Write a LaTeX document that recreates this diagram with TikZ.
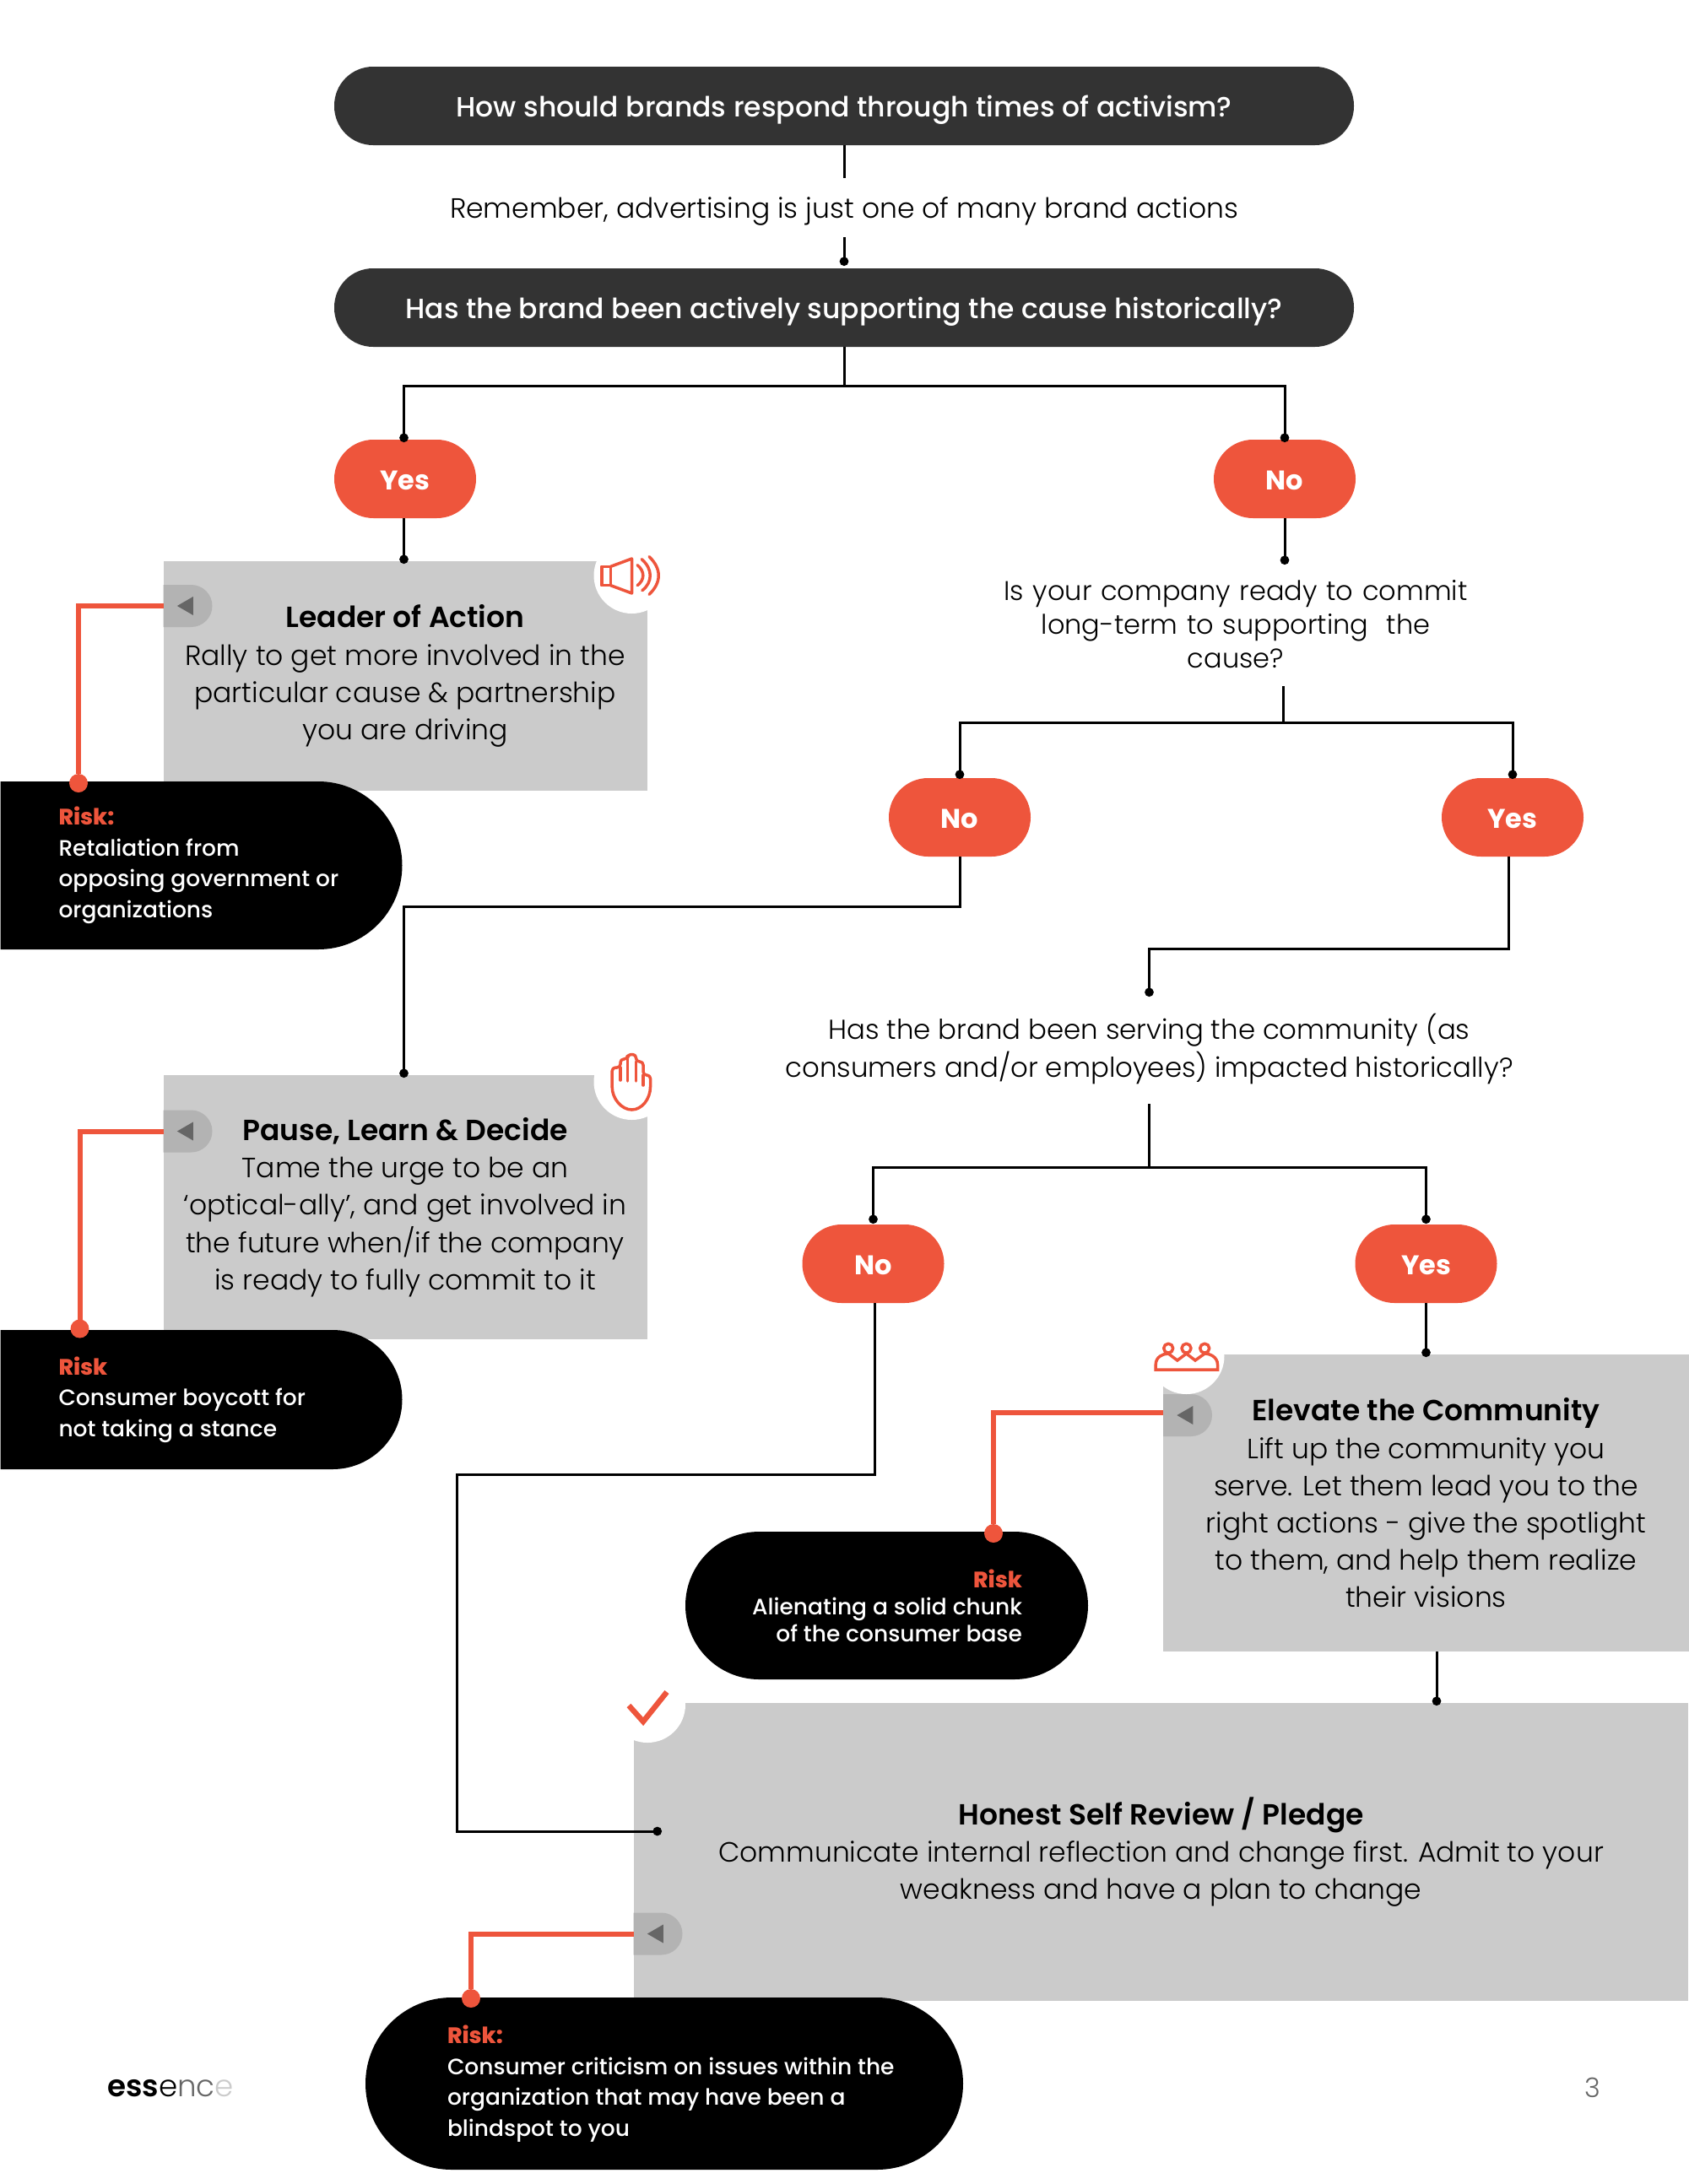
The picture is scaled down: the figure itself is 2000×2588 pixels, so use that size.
\documentclass[tikz,border=0pt]{standalone}
\usepackage{fontspec}
\setmainfont{Poppins Light}[BoldFont={Poppins SemiBold}]
\newfontfamily\pillfont{Poppins Medium}
\newfontfamily\regularfont{Poppins}
\usetikzlibrary{shapes,arrows.meta,positioning,calc}
\definecolor{inkdark}{HTML}{333333}
\definecolor{flame}{HTML}{EE553C}
\definecolor{panel}{HTML}{CBCBCB}
\definecolor{tabgray}{HTML}{B3B3B3}
\definecolor{markgray}{HTML}{666666}
\newcommand{\boxtitle}[1]{{\fontsize{34.5}{44.2}\selectfont\bfseries #1}}
\tikzset{
    every node/.style={inner sep=0pt, outer sep=0pt},
    question/.style={rectangle, rounded corners=46pt, fill=inkdark, text=white, minimum width=1208pt, minimum height=93pt, text height=32pt, text depth=7pt, font=\pillfont\fontsize{33}{40}\selectfont},
    answer/.style={rounded rectangle, fill=flame, text=white, minimum width=168pt, minimum height=93pt, text height=32pt, text depth=6.5pt, font=\regularfont\bfseries\fontsize{32}{40}\selectfont},
    plain/.style={align=center, font=\fontsize{33}{40}\selectfont},
    panelbox/.style={rectangle, fill=panel, align=center, font=\fontsize{33}{44.2}\selectfont},
    riskpill/.style={rounded rectangle, fill=black},
    risktext/.style={text=white, font=\pillfont\fontsize{26.5}{36.5}\selectfont},
    tabbox/.style={rounded rectangle, rounded rectangle west arc=none, fill=tabgray, minimum width=58pt, minimum height=50pt},
    tabmark/.style={isosceles triangle, isosceles triangle stretches, shape border rotate=180, fill=markgray, minimum height=19pt, minimum width=22pt},
    iconspot/.style={circle, fill=white, minimum size=90pt},
    icon/.style={draw=flame, line width=3.5pt, line cap=round, line join=round},
    wire/.style={draw, line width=3pt, -{Circle[length=10.5pt]}, shorten >=-3pt},
    stub/.style={draw, line width=3pt},
    riskline/.style={draw=flame, line width=6pt},
    riskdot/.style={circle, fill=flame, minimum size=22pt}
}
\begin{document}
\begin{tikzpicture}[x=1pt, y=-1pt, on grid]
    \useasboundingbox (0,0) rectangle (2000,2588);

    \node[question] (q1) at (1000,125.5) {How should brands respond through times of activism?};
    \node[plain, minimum height=70pt, text height=31pt, text depth=7pt, below=120.5pt of q1] (remember) {Remember, advertising is just one of many brand actions};
    \node[question, below=118.5pt of remember] (q2) {Has the brand been actively supporting the cause historically?};

    \node[answer, below left=203pt and 520pt of q2] (yes1) {Yes};
    \node[answer, right=1042pt of yes1] (no1) {No};

    \node[panelbox, minimum width=573pt, minimum height=272pt, below=233.5pt of yes1] (leader) {\boxtitle{Leader of Action}\\Rally to get more involved in the\\particular cause \& partnership\\you are driving};
    \node[tabbox, above left=83pt and 257.5pt of leader] (tab1) {};
    \node[tabmark] at (tab1.center) {};
    \node[iconspot, above right=119pt and 268.5pt of leader] (speaker) {};
    \node[riskpill, rounded rectangle west arc=none, minimum width=476pt, minimum height=199pt, below left=224.5pt and 241.5pt of leader] (risk1) {};
    \node[risktext, align=left, anchor=west] (risk1text) at ([xshift=69pt]risk1.west) {\textcolor{flame}{\bfseries Risk:}\\Retaliation from\\opposing government or\\organizations};
    \node[riskdot, above left=97.5pt and 145.5pt of risk1] (dot1) {};

    \node[plain, font=\fontsize{32}{40}\selectfont, text width=600pt, minimum height=147pt, below left=172pt and 58pt of no1] (ready) {Is your company ready to commit\\long-term to supporting\ \ the\\cause?};
    \node[answer, below left=229pt and 327pt of ready] (no2) {No};
    \node[answer, right=655pt of no2] (yes2) {Yes};

    \node[panelbox, minimum width=573pt, minimum height=313pt, below=629.5pt of leader] (pause) {\boxtitle{Pause, Learn \& Decide}\\Tame the urge to be an\\‘optical-ally’, and get involved in\\the future when/if the company\\is ready to fully commit to it};
    \node[tabbox, above left=90pt and 257.5pt of pause] (tab2) {};
    \node[tabmark] at (tab2.center) {};
    \node[iconspot, above right=148.5pt and 268.5pt of pause] (hand) {};
    \node[riskpill, rounded rectangle west arc=none, minimum width=476pt, minimum height=165pt, below left=228pt and 241.5pt of pause] (risk2) {};
    \node[risktext, align=left, anchor=west] (risk2text) at ([xshift=69pt]risk2.west) {\textcolor{flame}{\bfseries Risk}\\Consumer boycott for\\not taking a stance};
    \node[riskdot, above left=84pt and 144pt of risk2] (dot2) {};

    \node[plain, font=\fontsize{32.4}{44.5}\selectfont, minimum height=130pt] (has) at (1361.5,1243) {Has the brand been serving the community (as\\consumers and/or employees) impacted historically?};
    \node[answer, below left=254.5pt and 327pt of has] (no3) {No};
    \node[answer, right=655pt of no3] (yes3) {Yes};

    \node[panelbox, minimum width=624pt, minimum height=352pt, below=283.5pt of yes3] (elevate) {\boxtitle{Elevate the Community}\\Lift up the community you\\serve. Let them lead you to the\\right actions - give the spotlight\\to them, and help them realize\\their visions};
    \node[tabbox, above left=104pt and 282.5pt of elevate] (tab3) {};
    \node[tabmark] at (tab3.center) {};
    \node[iconspot, above left=174pt and 284pt of elevate] (crowd) {};
    \node[riskpill, minimum width=477pt, minimum height=175pt, below left=121.5pt and 639pt of elevate] (risk3) {};
    \node[risktext, font=\pillfont\fontsize{26.5}{32}\selectfont, align=right, anchor=east] (risk3text) at ([xshift=-78pt]risk3.east) {\textcolor{flame}{\bfseries Risk}\\Alienating a solid chunk\\of the consumer base};
    \node[riskdot, above right=85.5pt and 126.5pt of risk3] (dot3) {};

    \node[panelbox, minimum width=1249pt, minimum height=353pt, below left=413.5pt and 314pt of elevate] (honest) {\boxtitle{Honest Self Review / Pledge}\\Communicate internal reflection and change first. Admit to your\\weakness and have a plan to change};
    \node[tabbox, below left=97pt and 596pt of honest] (tab4) {};
    \node[tabmark] at (tab4.center) {};
    \node[iconspot, above left=174.5pt and 608.5pt of honest] (tick) {};
    \node[riskpill, minimum width=708pt, minimum height=204pt, below left=274.5pt and 588.5pt of honest] (risk4) {};
    \node[risktext, align=left, anchor=west] (risk4text) at ([xshift=97pt]risk4.west) {\textcolor{flame}{\bfseries Risk:}\\Consumer criticism on issues within the\\organization that may have been a\\blindspot to you};
    \node[riskdot, above left=101pt and 229pt of risk4] (dot4) {};

    \node[font=\fontsize{35.7}{44}\selectfont] (logo) at (202,2474.5) {\textcolor{black}{\bfseries ess}\textcolor{black}{e}\textcolor{markgray}{nc}\textcolor{panel}{e}};
    \node[text=markgray, font=\fontsize{32}{40}\selectfont] (page) at (1886.5,2473.5) {3};

    \coordinate[below=46pt of q2.south] (split1);
    \coordinate[below right=73.5pt and 56pt of ready] (ready1);
    \coordinate[below=43pt of ready1] (split2);
    \coordinate[below=75pt of has.south] (split3);

    \draw[stub] (q1.south) -- (remember.north);
    \draw[wire, shorten >=0pt] (remember.south) -- ([yshift=3pt]q2.north);
    \draw[stub] (q2.south) -- (split1);
    \draw[wire] (split1) -| ([xshift=-1.5pt]yes1.north);
    \draw[wire] (split1) -| (no1.north);
    \draw[wire] ([xshift=-1.5pt]yes1.south) -- ([xshift=-1.5pt]leader.north);
    \draw[wire] (no1.south) -- (no1.south |- ready.north);
    \draw[stub] (ready1) -- (split2);
    \draw[wire] (split2) -| ([yshift=2pt]no2.north);
    \draw[wire] (split2) -| ([yshift=2pt]yes2.north);
    \draw[wire] (no2.south) -- ++(0,59) -| ([xshift=-1.5pt]pause.north);
    \draw[wire] ([xshift=-5pt]yes2.south) -- ++(0,109) -| (has.north);
    \draw[stub] (has.south) -- (split3);
    \draw[wire] (split3) -| ([yshift=4pt]no3.north);
    \draw[wire] (split3) -| ([yshift=4pt]yes3.north);
    \draw[wire] (yes3.south) -- (elevate.north);
    \draw[wire] ([xshift=12.5pt]elevate.south) -- ([xshift=12.5pt]elevate.south |- honest.north);
    \draw[wire] ([xshift=2pt]no3.south) -- ++(0,203) -- ++(-495,0) |- ([xshift=30pt,yshift=24.5pt]honest.west);

    \draw[riskline] (tab1.west) -| (dot1);
    \draw[riskline] (tab2.west) -| (dot2);
    \draw[riskline] ([yshift=3pt]tab3.west) -| (dot3);
    \draw[riskline] (tab4.west) -| (dot4);

    \begin{scope}[shift={(speaker)}]
        \draw[icon] (-35.7,-10.7) rectangle (-25,11.7);
        \draw[icon] (-25,-10.7) -- (0,-20) -- (0,21) -- (-25,11.7);
        \draw[icon] (6.7,-12.3) .. controls (15.5,-5) and (15.5,5) .. (6.7,11.7);
        \draw[icon] (11.7,-19.3) .. controls (25,-8) and (25,8) .. (12.3,17.7);
        \draw[icon] (20.7,-22.3) .. controls (35.4,-8) and (35.4,8) .. (20.7,22.3);
    \end{scope}
    \begin{scope}[shift={(hand)}]
        \draw[icon, rounded corners=4pt] (-23.3,6) -- (-23.3,-17) -- (-13.5,-17) -- (-13.5,-27) -- (-5,-27) -- (-5,-32.5) -- (5,-32.5) -- (5,-24) -- (13.5,-24) -- (13.5,-8) -- (22,-8) -- (22,6);
        \draw[icon] (22,6) .. controls (22,20) and (12,33) .. (0,33) .. controls (-12,33) and (-23.3,20) .. (-23.3,6);
        \draw[icon] (-13.5,-17) -- (-13.5,-2);
        \draw[icon] (-5,-27) -- (-5,-1);
        \draw[icon] (5,-24) -- (5,-1);
        \draw[icon] (13.5,-8) -- (13.5,4);
    \end{scope}
    \begin{scope}[shift={(crowd)}]
        \draw[icon, line join=miter] (-36.3,16) -- (-36.3,10) .. controls (-36.3,1) and (-28,-3) .. (-21.3,-3) -- (-10.7,5) -- (0,-3) -- (10.5,5) -- (21.7,-3) .. controls (28,-3) and (37,1) .. (37,10) -- (37,16) -- cycle;
        \draw[icon] (-21.3,-9.3) circle (5.5pt);
        \draw[icon] (0,-9.3) circle (5.5pt);
        \draw[icon] (21.7,-9.3) circle (5.5pt);
    \end{scope}
    \begin{scope}[shift={(tick)}]
        \draw[icon, line width=6.5pt, line cap=butt, line join=miter] (-22,1) -- (-5,20) -- (23,-15);
    \end{scope}
\end{tikzpicture}
\end{document}
